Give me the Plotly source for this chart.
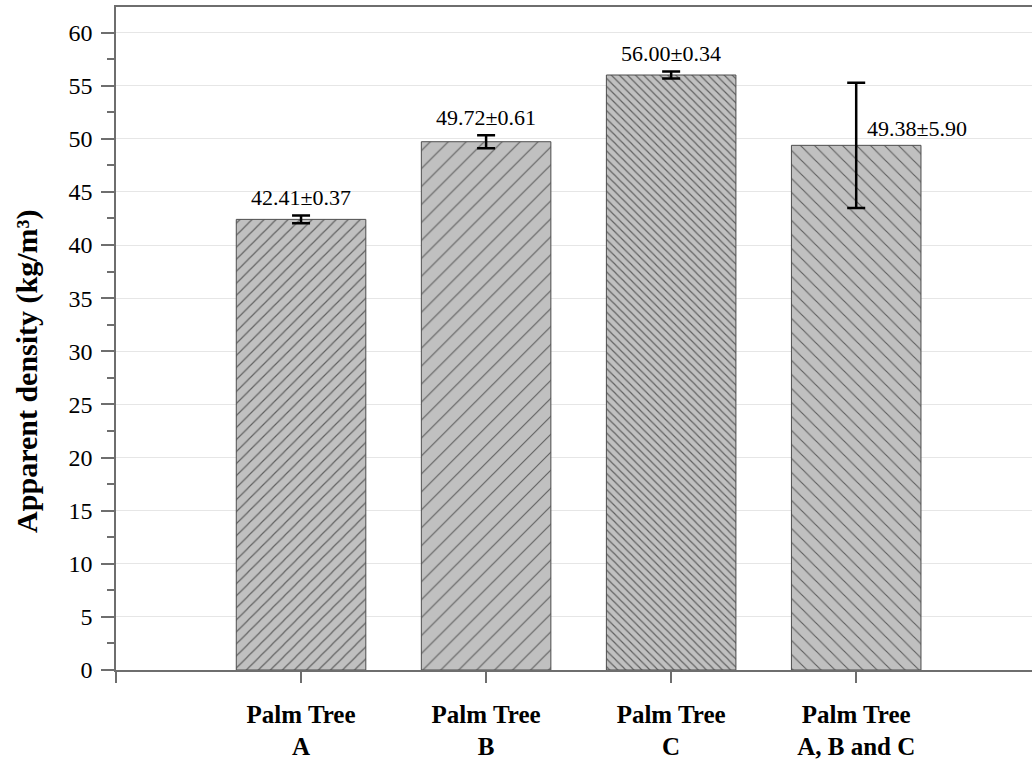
import plotly.graph_objects as go

# Apparent density of palm tree samples (mean ± standard deviation)
categories = ["Palm Tree<br>A", "Palm Tree<br>B", "Palm Tree<br>C", "Palm Tree<br>A, B and C"]
density = [42.41, 49.72, 56.00, 49.38]
std_dev = [0.37, 0.61, 0.34, 5.90]
y_title = "Apparent density (kg/m³)"

# hatch style per bar (pattern size = spacing between hatch lines)
hatch_shapes = ["/", "/", "\\", "\\"]
hatch_sizes = [8.5, 12.7, 5.7, 9.9]
hatch_solidity = [1.15 / s for s in hatch_sizes]   # ~1 px lines

x_pos = list(range(1, len(categories) + 1))

fig = go.Figure()
fig.add_trace(go.Bar(
    x=x_pos,
    y=density,
    width=0.70,
    marker=dict(
        color="#c0c0c0",
        line=dict(color="#4d4d4d", width=1),
        pattern=dict(
            shape=hatch_shapes,
            size=hatch_sizes,
            solidity=hatch_solidity,
            fgcolor="#000000",
            bgcolor="#c0c0c0",
            fillmode="overlay",
        ),
    ),
    error_y=dict(type="data", array=std_dev, visible=True,
                 color="black", thickness=2.5, width=9),
    showlegend=False,
))

serif = "Liberation Serif"

# value labels above each bar; the pooled bar carries its label beside the error bar
for i, (xv, m, s) in enumerate(zip(x_pos, density, std_dev)):
    label = f"{m:.2f}±{s:.2f}"
    if i < 3:
        fig.add_annotation(x=xv, y=m + s, text=label, showarrow=False,
                           xanchor="center", yanchor="middle", yshift=18,
                           font=dict(family=serif, size=22, color="black"))
    else:
        fig.add_annotation(x=xv, y=m, text=label, showarrow=False,
                           xanchor="left", yanchor="middle", xshift=9, yshift=17,
                           font=dict(family=serif, size=22, color="black"))

# vertical axis title, set a little below the axis midpoint
fig.add_annotation(text=f"<b>{y_title}</b>", textangle=-90, showarrow=False,
                   xref="paper", yref="paper", x=-0.098, y=0.45,
                   xanchor="center", yanchor="middle",
                   font=dict(family=serif, size=30, color="black"))

fig.update_layout(
    width=1032,
    height=760,
    margin=dict(l=116, r=0, t=7, b=90),
    paper_bgcolor="white",
    plot_bgcolor="white",
    font=dict(family=serif, color="black"),
)

fig.update_xaxes(
    range=[0, 4.95],
    tickvals=[0] + x_pos,
    ticktext=[""] + [f"<b>{c}</b>" for c in categories],
    tickfont=dict(family=serif, size=25, color="black"),
    ticks="outside", ticklen=11, tickcolor="#6e6e6e", tickwidth=1.5,
    ticklabelstandoff=10,
    showline=True, linecolor="#6e6e6e", linewidth=1.5, mirror=True,
    showgrid=False, zeroline=False,
)

fig.update_yaxes(
    range=[0, 62.4],
    tickvals=list(range(0, 61, 5)),
    tickfont=dict(family=serif, size=24, color="black"),
    ticks="outside", ticklen=13, tickcolor="#6e6e6e", tickwidth=1.5,
    ticklabelstandoff=4,
    minor=dict(dtick=2.5, ticks="outside", ticklen=7, tickcolor="#6e6e6e",
               tickwidth=1.5, showgrid=False),
    showline=True, linecolor="#6e6e6e", linewidth=1.5,
    showgrid=True, gridcolor="#e6e6e6", gridwidth=1,
    zeroline=False,
)

fig.write_html("out.html")
